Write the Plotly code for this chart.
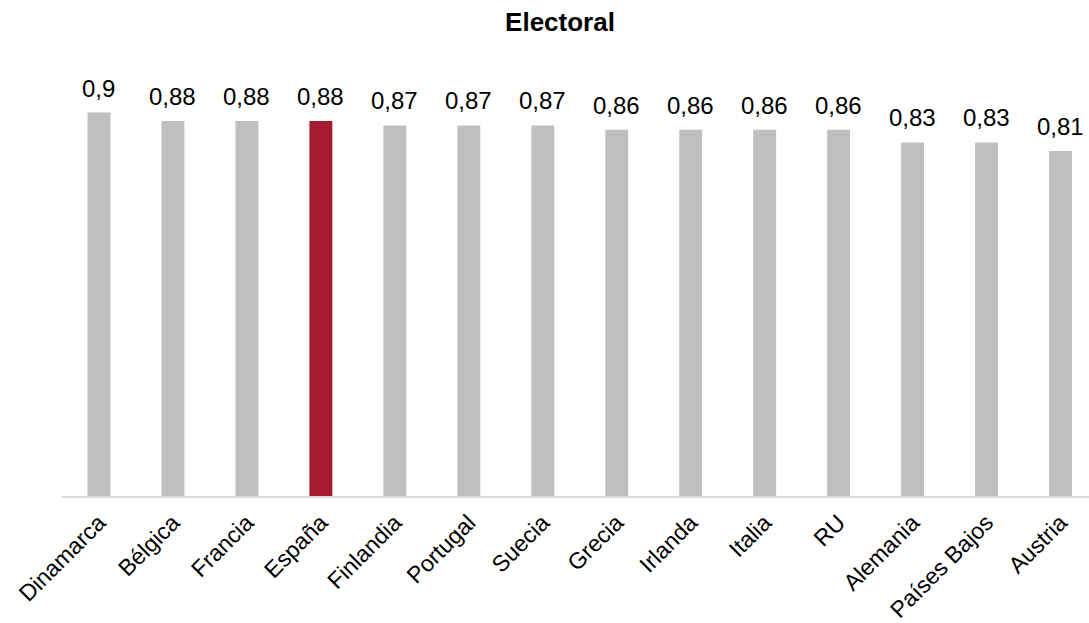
import plotly.graph_objects as go

countries = ["Dinamarca", "Bélgica", "Francia", "España", "Finlandia", "Portugal",
             "Suecia", "Grecia", "Irlanda", "Italia", "RU", "Alemania",
             "Países Bajos", "Austria"]
values = [0.9, 0.88, 0.88, 0.88, 0.87, 0.87, 0.87, 0.86, 0.86, 0.86, 0.86,
          0.83, 0.83, 0.81]
labels = ["0,9", "0,88", "0,88", "0,88", "0,87", "0,87", "0,87", "0,86",
          "0,86", "0,86", "0,86", "0,83", "0,83", "0,81"]
highlight = "España"

GREY = "#BFBFBF"
RED = "#A51B30"
FONT = "Liberation Sans, Arial, sans-serif"

colors = [RED if c == highlight else GREY for c in countries]

fig = go.Figure()
fig.add_trace(go.Bar(
    x=countries, y=values, marker=dict(color=colors, line=dict(width=0)),
    width=0.31, hoverinfo="skip",
))

for c, v, t in zip(countries, values, labels):
    fig.add_annotation(x=c, y=v, text=t, showarrow=False, yanchor="bottom",
                       yshift=9, font=dict(family=FONT, size=24, color="black"))

fig.update_layout(
    width=1089, height=623,
    margin=dict(l=62, r=0, t=70, b=127),
    paper_bgcolor="white", plot_bgcolor="white",
    showlegend=False,
    title=dict(text="<b>Electoral</b>", x=560/1089, xanchor="center",
               y=1 - 22/623, yanchor="middle", yref="container",
               font=dict(family=FONT, size=26, color="black")),
    font=dict(family=FONT, size=24, color="black"),
)
fig.update_xaxes(range=[-0.5, 13.385], tickangle=-45, showline=True,
                 linecolor="#D9D9D9", linewidth=2, ticks="", showgrid=False,
                 automargin=False, ticklabelstandoff=2,
                 tickfont=dict(family=FONT, size=23, color="black"))
fig.update_yaxes(range=[0, 1], visible=False, showgrid=False, zeroline=False)

fig.write_html("out.html", config={"displayModeBar": False},
               post_script="document.body.style.margin='0';document.body.style.padding='0';")
